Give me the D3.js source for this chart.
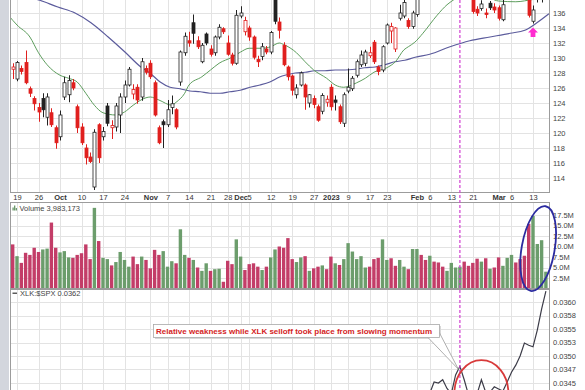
<!DOCTYPE html>
<meta charset="utf-8" />
<script src="https://d3js.org/d3.v7.min.js"></script>
<body style="margin:0;background:#fff;font-family:'Liberation Sans',Arial,sans-serif">
<svg id="chart" width="585" height="390" style="display:block"></svg>
<script>
/* DATA (index 0 = 2022-09-16, one entry per trading day) ------------------ */
const prevClose0 = 129.0;
const open  = [128.5,127.2,128.6,129.4,125.9,124.6,123.4,124.6,122.1,122.7,120.7,119.5,124.8,125.1,126.7,123.5,120.8,118.0,116.8,112.8,
               121.1,119.5,123.6,120.7,120.8,122.4,124.8,126.4,125.2,126.1,124.8,128.6,129.3,126.7,120.7,121.5,121.1,123.4,123.1,126.8,
               130.7,132.3,134.7,132.3,129.5,133.2,131.2,130.7,132.8,133.9,132.0,130.4,129.3,135.6,133.5,134.0,132.8,129.8,130.2,131.2,
               130.8,138.3,134.8,131.7,128.8,127.6,125.1,126.4,126.4,124.0,124.6,123.5,122.9,124.1,126.1,124.4,123.5,121.3,125.6,125.9,
               127.7,129.1,129.3,130.3,132.1,128.8,128.4,132.0,133.6,131.2,135.3,135.6,135.0,134.2,135.8,140.0,139.2,138.8,140.4,140.2,
               139.5,139.0,139.9,140.8,141.6,142.6,141.2,138.4,136.5,136.6,136.0,137.3,136.8,136.7,135.1,138.0,139.6,139.6,138.8,139.0,
               138.0,134.9,138.0,138.4,139.0];
const high  = [129.3,129.6,129.0,131.0,126.2,124.9,124.0,125.3,125.3,123.3,121.0,123.0,127.5,127.7,127.2,123.8,121.3,118.5,117.4,120.5,
               121.3,120.8,124.0,121.7,124.0,125.3,127.0,128.8,126.5,126.5,130.0,129.0,129.7,127.0,121.0,121.8,124.4,125.0,123.3,131.0,
               133.4,133.5,135.8,132.9,132.0,133.4,131.7,133.0,134.5,134.1,133.0,130.7,136.4,136.9,135.5,134.3,133.0,130.3,132.0,131.6,
               133.6,139.0,135.4,132.1,129.0,127.8,126.5,128.2,126.6,125.2,125.0,123.8,125.3,125.0,126.5,125.0,123.8,125.4,128.6,127.6,
               129.8,131.0,131.1,131.5,132.4,129.0,131.7,134.6,134.7,134.1,137.1,137.9,135.3,136.3,139.8,140.6,139.6,140.9,140.7,140.5,
               139.8,140.1,141.3,142.1,142.8,143.0,141.5,139.0,136.9,137.7,136.6,137.6,137.3,137.0,137.8,139.8,140.8,139.8,139.3,139.6,
               138.3,137.0,139.5,139.8,141.0];
const low   = [127.2,126.9,127.8,126.5,124.8,123.0,121.5,122.1,121.0,120.8,117.9,119.0,124.4,124.1,125.7,120.0,118.4,115.8,116.0,112.4,
               116.0,119.0,120.9,119.2,120.2,120.0,124.0,126.2,124.5,123.9,124.3,127.8,127.2,122.2,118.5,118.0,120.8,122.5,120.5,126.3,
               130.3,131.5,131.9,131.2,129.3,131.7,130.2,130.3,132.5,133.2,130.3,129.0,129.1,135.3,133.0,132.3,129.8,128.8,129.7,130.5,
               130.5,134.5,132.6,128.9,127.0,125.0,124.6,126.2,123.1,123.4,123.3,121.5,122.5,123.5,123.0,123.0,121.2,120.8,125.3,125.6,
               127.4,128.8,128.9,130.0,129.2,127.7,128.1,131.8,132.0,130.8,135.0,135.3,133.9,133.9,135.5,138.2,138.1,138.4,139.6,139.2,
               138.6,138.6,139.5,140.3,141.2,141.2,139.5,135.9,135.6,136.3,135.3,136.4,136.0,135.0,134.9,137.9,139.0,138.2,138.0,137.9,
               135.4,134.6,137.4,137.4,138.3];
const close = [128.8,129.4,128.2,126.7,125.3,123.9,122.8,123.1,124.8,121.1,118.7,122.4,126.7,127.0,126.0,120.7,118.7,116.7,116.2,120.1,
               116.7,120.2,121.3,121.0,123.6,124.8,126.4,128.5,125.8,124.4,129.5,128.1,127.5,122.4,118.7,121.1,123.1,123.9,120.8,130.8,
               132.9,132.0,133.3,131.5,131.7,132.0,130.5,132.8,134.1,133.5,130.5,129.3,135.7,136.0,135.0,132.8,130.1,129.5,131.5,130.8,
               133.4,134.9,133.7,129.1,127.5,125.7,126.0,128.0,124.8,125.1,123.8,121.7,125.0,124.5,123.5,124.1,121.5,125.1,126.1,127.3,
               129.5,130.4,130.8,130.7,129.5,128.2,131.5,134.4,134.2,134.0,136.0,137.4,134.2,136.0,139.5,139.0,138.6,140.5,140.0,139.6,
               139.0,139.8,141.0,141.8,142.5,141.5,140.2,136.2,136.0,137.2,135.8,136.7,136.4,135.3,137.1,139.4,139.9,138.5,138.4,138.2,
               135.7,136.4,139.2,139.5,140.6];
/* volume, millions */
const volume = [10.5,7.7,6.1,8.5,8.0,9.7,8.7,9.3,9.5,15.7,9.7,8.6,8.9,7.4,7.3,8.0,8.4,10.5,7.0,19.2,
                11.3,7.3,7.0,5.5,6.3,8.7,6.8,5.2,7.6,5.8,7.6,6.8,4.8,9.2,8.0,8.9,5.2,6.5,6.0,14.1,
                8.0,7.3,6.8,5.0,4.2,6.0,4.2,4.6,4.7,1.6,6.6,5.8,11.7,7.6,4.4,5.8,6.0,5.2,4.4,5.2,
                7.4,9.3,10.0,9.7,12.0,7.0,6.3,7.4,7.7,4.2,4.8,5.2,5.5,4.6,7.6,6.0,5.6,7.0,10.8,8.8,
                7.0,7.7,5.0,5.2,7.0,7.3,11.7,6.8,7.2,5.4,6.8,5.2,4.6,9.4,9.4,8.0,6.8,7.8,6.4,6.2,
                5.2,4.2,6.1,5.0,5.2,6.4,5.4,6.1,7.1,6.4,7.2,4.7,5.0,7.4,5.4,7.3,8.0,6.2,7.0,7.8,
                15.4,17.3,10.6,11.5,4.0];
/* moving averages: [index, value] */
const ma20 = [[-1,135.7],[1,134.4],[4,132.8],[6,130.7],[8,129.1],[11,127.7],[13,127.3],[15,126.8],[17,125.3],[19,123.7],
              [21,122.7],[24,122.4],[26,122.8],[28,123.7],[31,124.7],[32,124.8],[34,124.4],[37,123.7],[38,124.1],[40,125.3],
              [41,126.4],[44,127.5],[46,128.4],[48,129.3],[51,130.1],[53,130.8],[55,131.3],[58,131.3],[60,131.5],[62,132.0],
              [63,131.8],[66,130.7],[68,129.5],[70,128.4],[73,127.3],[75,126.4],[77,126.1],[80,126.7],[82,127.3],[84,128.1],
              [87,128.7],[89,129.5],[91,131.1],[92,131.5],[93.5,132.1],[95.4,133.3],[98.7,135.7],[101,137.1],[102.4,137.7],
              [106,139.0],[109,138.6],[113,137.6],[117,137.5],[121,137.8],[124,138.0]];
const ma50 = [[-2,139.5],[1,138.6],[6.3,137.7],[10.5,136.8],[14.5,136.0],[18.2,134.7],[22.2,132.8],[26.1,130.8],[29.8,128.8],
              [31.9,128.0],[34.3,126.8],[36.6,126.1],[38.9,125.9],[41.2,125.6],[43.6,125.5],[45.9,125.3],[48.2,125.3],[50.5,125.5],
              [52.9,125.7],[55.2,126.1],[57.5,126.4],[59.8,126.8],[62.2,127.5],[63.3,127.7],[65.7,128.0],[68,128.1],[70.3,128.3],
              [72.6,128.3],[75,128.4],[77.3,128.4],[79.6,128.5],[81.9,128.7],[84.3,128.8],[86.6,129.1],[88.9,129.5],[91.2,129.7],
              [93.6,130.1],[97,130.5],[101.7,131.5],[106.3,132.3],[111,132.8],[115.7,133.3],[119.1,133.7],[121.9,134.7],[124.7,135.9]];
/* XLK:$SPX ratio (only the tail is inside the visible window) */
const ratioIdx = d3.range(94,125);
const ratio = [0.03420,0.03425,0.03428,0.03431,0.03452,0.03450,0.03456,0.03440,0.03430,0.03465,0.03481,0.03456,0.03428,0.03425,
               0.03430,0.03456,0.03433,0.03433,0.03443,0.03439,0.03435,0.03452,0.03470,0.03483,0.03500,0.03524,0.03520,0.03517,
               0.03548,0.03587,0.03620];

const tickIdx    = [1,6,11,16,21,26,32,36,41,46,50,53,55,60,65,70,74,78,83,87,94,97,102,107,113,116,121];
const tickLabels = ["19","26","Oct","10","17","24","Nov","7","14","21","28","Dec","5","12","19","27","2023","9","17","23","Feb","6","13","21","Mar","6","13"];
const boldLabels = ["Oct","Nov","Dec","2023","Feb","Mar"];
const priceTicks = [114,116,118,120,122,124,126,128,130,132,134,136,138];
const volTicks   = [2.5,5,7.5,10,12.5,15,17.5];
const volLabels  = ["2.5M","5.0M","7.5M","10.0M","12.5M","15.0M","17.5M"];
const ratioTicks = [0.0345,0.03475,0.0350,0.03525,0.0355,0.03575,0.0360];
const ratioLabels= ["0.0345","0.0347","0.0350","0.0353","0.0355","0.0358","0.0360"];
const markIdx = 104;         // dashed marker (Feb 15)
const noteText = "Relative weakness while XLK selloff took place from slowing momentum";

/* LAYOUT ------------------------------------------------------------------ */
const L=10,R=550;
const P={t:-20,b:193}, V={t:202,b:289}, Q={t:289,b:400};
const x  = d3.scaleLinear().domain([0,124]).range([12.7,545.9]);
const yP = d3.scaleLinear().domain([114,136]).range([178,13]);
const yV = d3.scaleLinear().domain([0,17.5]).range([288.5,215]);
const yR = d3.scaleLinear().domain([0.0345,0.0360]).range([383,302]);
const grid="#e3e3e3", frame="#9c9c9c", txt="#444";
const RED="#e0201e", VRED="#c33d68", VGRN="#6c9d6c";

const days = open.map((o,i)=>{
  const c=close[i], pc=i?close[i-1]:prevClose0;
  return {i,o,h:high[i],l:low[i],c,v:volume[i],up:c>=pc,hollow:c>o};
});

const svg=d3.select("#chart");
svg.append("rect").attr("width",585).attr("height",390).attr("fill","#fff");
svg.append("rect").attr("width",L-1).attr("height",390).attr("fill","#d3d6dd");

const defs=svg.append("defs");
[["cP",P],["cV",V],["cQ",Q]].forEach(([id,p])=>
  defs.append("clipPath").attr("id",id).append("rect")
    .attr("x",L).attr("y",p.t).attr("width",R-L).attr("height",p.b-p.t));

/* panels + grids ---------------------------------------------------------- */
function panel(p,id,yScale,ticks){
  const g=svg.append("g").attr("clip-path",`url(#${id})`);
  g.append("rect").attr("x",L).attr("y",p.t).attr("width",R-L).attr("height",p.b-p.t).attr("fill","#fff");
  g.selectAll("line.h").data(ticks).join("line").attr("class","h")
    .attr("x1",L).attr("x2",R).attr("y1",d=>Math.round(yScale(d))+.5).attr("y2",d=>Math.round(yScale(d))+.5)
    .attr("stroke",grid);
  g.selectAll("line.v").data(tickIdx).join("line").attr("class","v")
    .attr("x1",d=>Math.round(x(d))+.5).attr("x2",d=>Math.round(x(d))+.5).attr("y1",p.t).attr("y2",p.b)
    .attr("stroke",grid);
  return g;
}
const gP=panel(P,"cP",yP,priceTicks);
const gV=panel(V,"cV",yV,volTicks);
const gQ=panel(Q,"cQ",yR,ratioTicks);

/* moving averages --------------------------------------------------------- */
const maLine=d3.line().x(d=>x(d[0])).y(d=>yP(d[1])).curve(d3.curveMonotoneX);
gP.append("path").attr("d",maLine(ma50)).attr("fill","none").attr("stroke","#5b5b9c").attr("stroke-width",1.2);
gP.append("path").attr("d",maLine(ma20)).attr("fill","none").attr("stroke","#5e9e5e").attr("stroke-width",1);

/* candles ----------------------------------------------------------------- */
const col=d=>d.up?"#222":RED;
const cg=gP.selectAll("g.c").data(days).join("g").attr("class","c");
cg.append("line")
  .attr("x1",d=>Math.round(x(d.i))+.5).attr("x2",d=>Math.round(x(d.i))+.5)
  .attr("y1",d=>yP(d.h)).attr("y2",d=>yP(d.l)).attr("stroke",col).attr("stroke-width",1);
cg.append("rect")
  .attr("x",d=>Math.round(x(d.i))-1).attr("width",3)
  .attr("y",d=>yP(Math.max(d.o,d.c))).attr("height",d=>Math.max(1,Math.abs(yP(d.o)-yP(d.c))))
  .attr("fill",d=>d.hollow?"#fff":col(d)).attr("stroke",col).attr("stroke-width",.8);

/* volume ------------------------------------------------------------------ */
gV.selectAll("rect.vb").data(days).join("rect").attr("class","vb")
  .attr("x",d=>x(d.i)-1.7).attr("width",3.4)
  .attr("y",d=>yV(d.v)).attr("height",d=>yV(0)-yV(d.v))
  .attr("fill",d=>d.up?VGRN:VRED);

/* ratio line -------------------------------------------------------------- */
gQ.append("path")
  .attr("d",d3.line().x((d,k)=>x(ratioIdx[k])).y(d=>yR(d))(ratio))
  .attr("fill","none").attr("stroke","#3c3c48").attr("stroke-width",1.2);

/* frames ------------------------------------------------------------------ */
[P,V,Q].forEach(p=>svg.append("rect").attr("x",L+.5).attr("y",p.t+.5)
  .attr("width",R-L-1).attr("height",p.b-p.t-1).attr("fill","none").attr("stroke",frame));

/* axes -------------------------------------------------------------------- */
function rightAxis(scale,vals,labels,p){
  const a=svg.append("g").attr("transform",`translate(${R},0)`)
    .call(d3.axisRight(scale).tickValues(vals).tickSize(0).tickPadding(3)
      .tickFormat((d,k)=>labels?labels[k]:d));
  a.select(".domain").remove();
  a.selectAll("text").attr("fill",txt).style("font-size","7.5px")
    .style("font-family","'Liberation Sans',Arial,sans-serif");
  a.selectAll(".tick").filter(d=>scale(d)<p.t+2||scale(d)>p.b-2).remove();
}
rightAxis(yP,priceTicks,null,{t:4,b:P.b});
rightAxis(yV,volTicks,volLabels,V);
rightAxis(yR,ratioTicks,ratioLabels,{t:Q.t,b:390});

const ax=svg.append("g").attr("transform",`translate(0,${P.b})`)
  .call(d3.axisBottom(x).tickValues(tickIdx).tickSize(0).tickPadding(2).tickFormat((d,k)=>tickLabels[k]));
ax.select(".domain").remove();
ax.selectAll("text").attr("fill","#333").style("font-size","7.5px")
  .style("font-family","'Liberation Sans',Arial,sans-serif")
  .style("font-weight",(d,k)=>boldLabels.includes(tickLabels[k])?"700":"400");

/* legends ----------------------------------------------------------------- */
const lg=svg.append("g").style("font-family","'Liberation Sans',Arial,sans-serif").style("font-size","7.5px").attr("fill","#444");
[[0,3],[1.6,5],[3.2,2.5]].forEach(([dx,h])=>lg.append("rect").attr("x",12.5+dx).attr("y",210.5-h).attr("width",1.2).attr("height",h).attr("fill","#5e8f5e"));
lg.append("text").attr("x",19.5).attr("y",210.7).text("Volume 3,983,173");
lg.append("rect").attr("x",12.5).attr("y",292.6).attr("width",4.5).attr("height",1.2).attr("fill","#333");
lg.append("text").attr("x",20).attr("y",295.8).text("XLK:$SPX 0.0362");

/* annotations ------------------------------------------------------------- */
svg.append("line").attr("x1",x(markIdx)).attr("x2",x(markIdx)).attr("y1",0).attr("y2",390)
  .attr("stroke","#d23fd2").attr("stroke-width",1.2).attr("stroke-dasharray","3,2");

// pink arrow under Mar 13 low
const ax0=x(121), ay0=yP(low[121])+4;
svg.append("path").attr("fill","#ff2bd0")
  .attr("d",`M${ax0},${ay0} l5,5 h-2.6 v4.5 h-4.8 v-4.5 h-2.6 Z`);

// blue ellipse round the volume spike
svg.append("ellipse").attr("transform",`translate(${x(122.2)},${yV(9.5)}) rotate(10)`)
  .attr("rx",16.5).attr("ry",43).attr("fill","none").attr("stroke","#2b2ba0").attr("stroke-width",1.8);

// red ellipse in ratio panel
svg.append("ellipse").attr("cx",x(109)).attr("cy",yR(0.03433)+1)
  .attr("rx",27).attr("ry",33).attr("fill","none").attr("stroke","#d83a3a").attr("stroke-width",1.8);

// callout
const tip=[x(markIdx)-1.5,yR(0.03481)+3];
const note=svg.append("g");
note.append("rect").attr("x",155).attr("y",326).attr("width",286).attr("height",13).attr("fill","#d8d8d8");
note.append("path").attr("d",`M428,337.5 L${tip[0]},${tip[1]} L439,332`).attr("fill","#fff").attr("stroke","#9a9a9a").attr("stroke-width",.8);
note.append("rect").attr("x",153.5).attr("y",324.5).attr("width",286).attr("height",13).attr("fill","#fff").attr("stroke","#a8a8a8").attr("stroke-width",.8);
note.append("text").attr("x",156).attr("y",334).attr("fill","#d42424")
  .style("font-family","'Liberation Sans',Arial,sans-serif").style("font-size","8px").style("font-weight","700")
  .text(noteText);
</script>
</body>
